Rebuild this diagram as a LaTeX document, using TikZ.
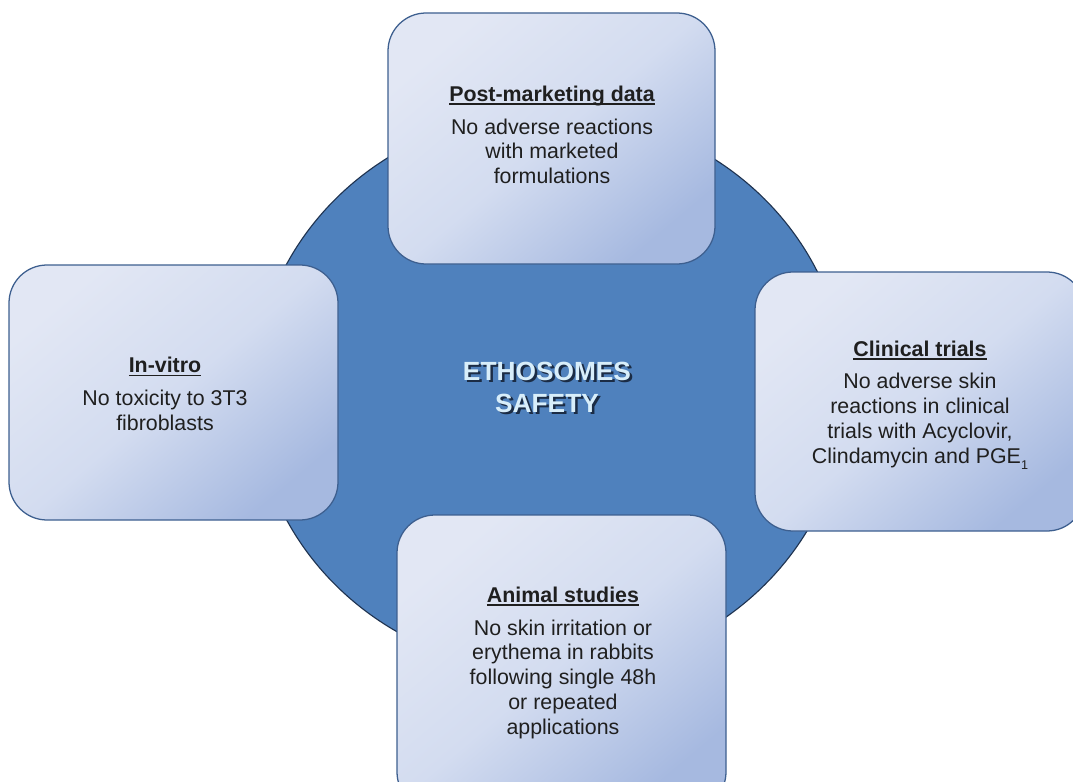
\documentclass[tikz,border=0pt]{standalone}
\usepackage{fontspec}
\setmainfont{Liberation Sans}
\definecolor{discblue}{HTML}{4F81BD}
\definecolor{discline}{HTML}{1F3350}
\definecolor{boxline}{HTML}{3D5F8F}
\definecolor{boxlight}{HTML}{E2E7F4}
\definecolor{boxmid}{HTML}{D3DCF0}
\definecolor{boxdark}{HTML}{A6B9E0}
\definecolor{titlefill}{HTML}{D8EEFA}
\definecolor{titleshade}{HTML}{1B2C45}
\newcommand\headline[1]{\setbox0\hbox{\bfseries #1}\rlap{\rule[-2.3pt]{\wd0}{0.9pt}}\box0}

\begin{document}
\begin{tikzpicture}[x=0.025cm, y=-0.025cm, line width=0.9pt,
  panel/.style={draw=boxline, rounded corners=0.95cm, top color=boxlight,
    bottom color=boxdark, middle color=boxmid, shading angle=40},
  panel text/.style={align=center, text=black!88, font=\fontsize{15.2}{17.7}\selectfont},
  title text/.style={align=center, font=\bfseries\fontsize{18.7}{23.1}\selectfont}]
  \useasboundingbox (0,0) rectangle (1073,782);
  \clip (0,0) rectangle (1073,782);
  % the disc behind the four panels
  \draw[fill=discblue, draw=discline, line width=0.8pt] (550,392) ellipse [x radius=296, y radius=280];
  \node[title text, text=titleshade] (safetyshadow) at (549.5,389.5) {ETHOSOMES\\SAFETY};
  \node[title text, text=titlefill] (safety) at (547,387.5) {ETHOSOMES\\SAFETY};
  % panels
  \draw[panel] (388,13) rectangle (715,264);
  \draw[panel] (9,265) rectangle (338,520);
  \draw[panel] (755,272) rectangle (1085,531);
  \draw[panel] (397,515) rectangle (726,810);
  \node[panel text] (postmarket) at (552,135)
    {\headline{Post-marketing data}\\[5.5pt] No adverse reactions\\ with marketed\\ formulations};
  \node[panel text] (invitro) at (165,394)
    {\headline{In-vitro}\\[5.5pt] No toxicity to 3T3\\ fibroblasts};
  \node[panel text] (clinical) at (920,405)
    {\headline{Clinical trials}\\[5.5pt] No adverse skin\\ reactions in clinical\\ trials with Acyclovir,\\ Clindamycin and PGE\raisebox{-4pt}{\fontsize{9}{9}\selectfont 1}};
  \node[panel text] (animal) at (563,663)
    {\headline{Animal studies}\\[5.5pt] No skin irritation or\\ erythema in rabbits\\ following single 48h\\ or repeated\\ applications};
\end{tikzpicture}
\end{document}
